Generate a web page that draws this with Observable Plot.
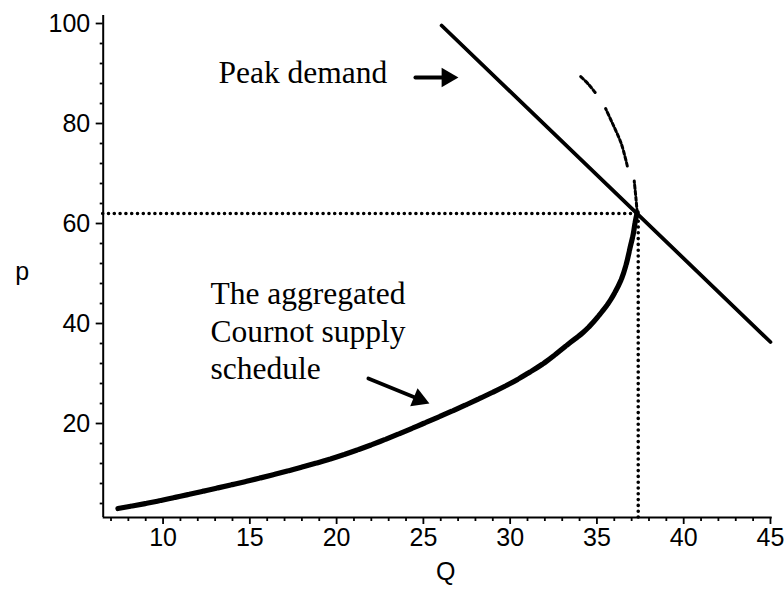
<!DOCTYPE html>
<html><head><meta charset="utf-8">
<script src="https://cdn.jsdelivr.net/npm/d3@7"></script>
<script src="https://cdn.jsdelivr.net/npm/@observablehq/plot@0.6"></script>
<style>body{margin:0;background:#fff} #chart{width:784px;height:590px}</style>
</head><body><div id="chart"></div>
<script>
// Aggregated Cournot supply schedule, lower (thick) branch
const supplyQ = [7.4, 9, 10, 11, 12.5, 15, 17.5, 20, 22.5, 25, 27.5, 30, 31, 32, 33.5, 34.2, 34.8, 35.3, 35.8, 36.4, 36.7, 36.9, 37.1, 37.2, 37.32];
const supplyP = [3.0, 4.0, 4.7, 5.45, 6.6, 8.6, 10.8, 13.3, 16.4, 20.0, 23.8, 28.0, 30.0, 32.2, 36.3, 38.2, 40.3, 42.4, 44.8, 48.8, 52.0, 55.0, 58.0, 60.2, 62.2];
// upper (thin, broken) branch
const upperQ   = [37.32, 37.25, 37.15, 36.75, 36.4, 35.9, 35.5, 34.9, 34.5, 34.0];
const upperP   = [62.2, 65.0, 68.5, 71.5, 76.0, 80.0, 83.0, 86.2, 87.9, 89.6];
const upperSeg = [1, 1, 1, 2, 2, 2, 2, 3, 3, 3];
// Peak demand line
const demandQ = [26.05, 45];
const demandP = [99.6, 36.3];
// Equilibrium guide lines
const eqQ = [37.38];
const eqP = [62];
const axisMinQ = [6.55];
const axisMinP = [1.2];
// Ticks
const xMajorTicks = [10, 15, 20, 25, 30, 35, 40, 45];
const xMinorTicks = [7, 8, 9, 11, 12, 13, 14, 16, 17, 18, 19, 21, 22, 23, 24, 26, 27, 28, 29, 31, 32, 33, 34, 36, 37, 38, 39, 41, 42, 43, 44];
const yMajorTicks = [20, 40, 60, 80, 100];
const yMinorTicks = [4, 8, 12, 16, 24, 28, 32, 36, 44, 48, 52, 56, 64, 68, 72, 76, 84, 88, 92, 96];
// Annotations
const noteText = ["Peak demand", "The aggregated\nCournot supply\nschedule"];
const noteQ = [13.19, 12.73];
const noteP = [90.6, 38.74];
const arrowTailQ = [24.54, 21.83];
const arrowTailP = [89.2, 29.0];
const arrowTipQ = [27.02, 25.35];
const arrowTipP = [89.2, 24.0];

const supply = supplyQ.map((q, i) => ({Q: q, p: supplyP[i]}));
const upper = upperQ.map((q, i) => ({Q: q, p: upperP[i], seg: upperSeg[i]}));
const demand = demandQ.map((q, i) => ({Q: q, p: demandP[i]}));
const notes = noteText.map((t, i) => ({label: t, Q: noteQ[i], p: noteP[i]}));
const arrows = arrowTailQ.map((q, i) => ({x1: q, y1: arrowTailP[i], x2: arrowTipQ[i], y2: arrowTipP[i]}));

const serif = "'Liberation Serif', 'Times New Roman', serif";

const chart = Plot.plot({
  width: 784, height: 590,
  marginLeft: 102.7, marginRight: 12.3, marginTop: 15, marginBottom: 73,
  x: {domain: [axisMinQ[0], 45.1]},
  y: {domain: [axisMinP[0], 101.6]},
  style: {fontFamily: "'Liberation Sans', Arial, sans-serif", fontSize: "25px", color: "black", background: "white", overflow: "visible"},
  marks: [
    Plot.ruleX(axisMinQ, {strokeWidth: 2}),
    Plot.ruleY(axisMinP, {strokeWidth: 2}),
    Plot.axisX(xMajorTicks, {tickSize: 7, tickPadding: 4, label: null, strokeWidth: 1.8}),
    Plot.axisX(xMinorTicks, {tickSize: 4, fill: "none", label: null, strokeWidth: 1.8}),
    Plot.axisY(yMajorTicks, {tickSize: 7, tickPadding: 6, label: null, strokeWidth: 1.8}),
    Plot.axisY(yMinorTicks, {tickSize: 3, fill: "none", label: null, strokeWidth: 1.8}),
    Plot.text(["Q"], {text: d => d, frameAnchor: "bottom", dx: 8, dy: 62, fontSize: 25}),
    Plot.text(["p"], {text: d => d, frameAnchor: "left", dx: -88, dy: 5, fontSize: 25}),
    Plot.ruleY(eqP, {x1: axisMinQ[0], x2: eqQ[0], strokeWidth: 3.6, strokeDasharray: "0,5.8", strokeLinecap: "round"}),
    Plot.ruleX(eqQ, {y1: axisMinP[0], y2: eqP[0], strokeWidth: 3.6, strokeDasharray: "0,5.8", strokeLinecap: "round"}),
    Plot.line(demand, {x: "Q", y: "p", strokeWidth: 3.8}),
    Plot.line(supply, {x: "Q", y: "p", strokeWidth: 5.2, curve: "catmull-rom", strokeDasharray: "13,1.6"}),
    Plot.line(upper, {x: "Q", y: "p", z: "seg", strokeWidth: 3, curve: "catmull-rom", strokeDasharray: "3.5,2.5"}),
    Plot.text(notes, {x: "Q", y: "p", text: "label", textAnchor: "start", lineAnchor: "middle", fontFamily: serif, fontSize: 31.5, lineHeight: 1.19}),
    Plot.arrow(arrows, {x1: "x1", y1: "y1", x2: "x2", y2: "y2", headLength: 0, insetEnd: 9, strokeWidth: 3.8}),
    Plot.dot(arrows.slice(0, 1), {x: "x2", y: "y2", symbol: "triangle", r: 7.2, rotate: 90, dx: -11.2, dy: 0, fill: "black", stroke: "none"}),
    Plot.dot(arrows.slice(1, 2), {x: "x2", y: "y2", symbol: "triangle", r: 7.2, rotate: 112.3, dx: -10.4, dy: -4.2, fill: "black", stroke: "none"})
  ]
});
document.getElementById("chart").appendChild(chart);
</script>
</body></html>
